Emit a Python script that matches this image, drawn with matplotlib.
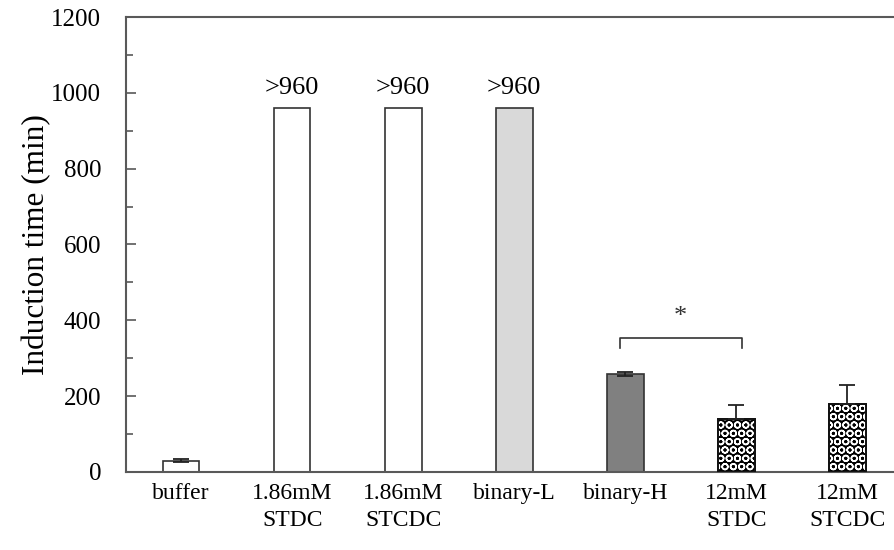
import matplotlib
matplotlib.use("Agg")
import matplotlib.pyplot as plt
import numpy as np

plt.rcParams["font.family"] = ["Liberation Serif", "DejaVu Serif"]
plt.rcParams["hatch.linewidth"] = 1.1

categories = ["buffer", "1.86mM\nSTDC", "1.86mM\nSTCDC", "binary-L",
              "binary-H", "12mM\nSTDC", "12mM\nSTCDC"]
values = [30, 960, 960, 960, 258, 140, 180]
err_lo = [3, 0, 0, 0, 6, 0, 0]
err_hi = [3, 0, 0, 0, 6, 37, 48]
fills = ["white", "white", "white", "#d9d9d9", "#808080", "black", "black"]
patterned = [False, False, False, False, False, True, True]
labels_over = {1: ">960", 2: ">960", 3: ">960"}

fig = plt.figure(figsize=(8.95, 5.5), dpi=100)
ax = fig.add_axes([0.141, 0.142, 0.859, 0.827])

x = np.arange(len(categories))
width = 0.33

ax.bar(x, values, width=width, color=fills, edgecolor="#333333", linewidth=1.2, zorder=2)
# checker/circle pattern on the 12mM bars
for i in x:
    if patterned[i]:
        ax.bar(i, values[i], width=width, color="none", edgecolor="white",
               hatch="OO", linewidth=0, zorder=3)
        ax.bar(i, values[i], width=width, color="none", edgecolor="#111111",
               linewidth=1.4, zorder=4)

# error bars only where there is one
has_err = [i for i in x if err_lo[i] or err_hi[i]]
ax.errorbar([x[i] for i in has_err], [values[i] for i in has_err],
            yerr=[[err_lo[i] for i in has_err], [err_hi[i] for i in has_err]],
            fmt="none", ecolor="#222222", elinewidth=1.3, capsize=6, capthick=1.3, zorder=5)

for i, txt in labels_over.items():
    ax.text(i, values[i] + 25, txt, ha="center", va="bottom", fontsize=19)

# significance bracket between binary-H and 12mM STDC
bx0, bx1, by, bdrop = 3.95, 5.05, 353, 26
ax.plot([bx0, bx0, bx1, bx1], [by - bdrop, by, by, by - bdrop], color="#333333", lw=1.2)
ax.text((bx0 + bx1) / 2, by + 55, "*", ha="center", va="center", fontsize=19, color="#333333")

ax.set_xlim(-0.495, 6.43)
ax.set_ylim(0, 1200)
ax.set_yticks(np.arange(0, 1201, 200))
ax.set_yticks(np.arange(0, 1201, 100), minor=True)
ax.set_xticks(x)
ax.set_xticklabels(categories, fontsize=17, linespacing=1.4)
ax.tick_params(axis="x", length=0, pad=8)
ax.tick_params(axis="y", which="both", direction="in", labelsize=18, color="#595959", width=1.2)
ax.tick_params(axis="y", which="major", length=7, pad=18)
ax.tick_params(axis="y", which="minor", length=5)
ax.set_ylabel("Induction time (min)", fontsize=22.5, labelpad=0)

for side in ["left", "bottom", "top"]:
    ax.spines[side].set_color("#595959")
    ax.spines[side].set_linewidth(1.5)
ax.spines["right"].set_visible(False)

plt.savefig("out.png", dpi=100)
